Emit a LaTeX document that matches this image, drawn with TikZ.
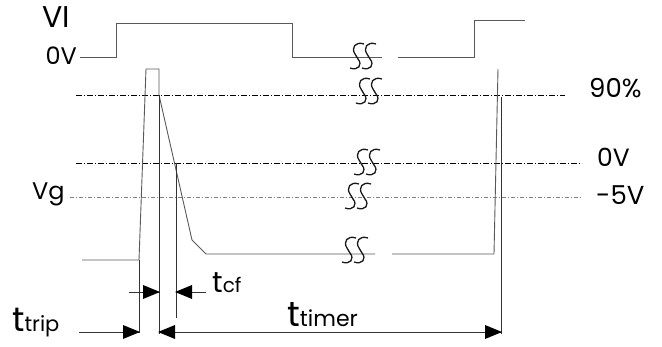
\documentclass[tikz,border=0pt]{standalone}
\usepackage{fontspec}
\setmainfont{Poppins}
\usetikzlibrary{arrows.meta, positioning}
\tikzset{>={Triangle[length=15pt,width=12pt]}}
\tikzset{
  wave/.style={draw=black!65, line width=0.9pt},
  tmark/.style={draw=black!80, line width=0.9pt},
  headr/.pic={\fill[black] (1,0) -- (-16,-7) -- (-16,7) -- cycle;},
  headl/.pic={\fill[black] (-1,0) -- (16,-7) -- (16,7) -- cycle;},
  lvl/.style={draw=black, line width=0.6pt, dash pattern=on 6pt off 2pt on 1pt off 2pt},
  lvlg/.style={draw=black!50, line width=0.8pt, dash pattern=on 4pt off 2pt on 1pt off 2pt},
  lab/.style={inner sep=0pt, anchor=base west},
  brk/.pic={
    \draw[black!90, line width=1.3pt] (1,-12) .. controls (-8,-15) and (-12,-8) .. (-8,-2) -- (-5,3) .. controls (0,9) and (-5,15) .. (-13,12);
    \draw[black!90, line width=1.3pt] (13,-12) .. controls (4,-15) and (0,-8) .. (4,-2) -- (7,3) .. controls (12,9) and (7,15) .. (-1,12);
  }
}
\newcommand{\tsub}[3]{{\fontsize{#1}{#1}\selectfont t}{\fontsize{#2}{#2}\selectfont #3}}

\begin{document}
\begin{tikzpicture}[x=1pt, y=-1pt]
    \useasboundingbox (0,0) rectangle (662,347);

    % labels
    \node[lab] (VI)   at (42,28)  {\fontsize{30}{30}\selectfont VI};
    \node[lab, anchor=base east] (V0a) at (77,65) {\fontsize{24}{24}\selectfont 0V};
    \node[lab] (P90)  at (589,98) {\fontsize{26}{26}\selectfont 90\%};
    \node[lab] (V0b)  at (597,167) {\fontsize{25}{25}\selectfont 0V};
    \node[lab] (V5)   at (596,205) {\fontsize{26}{26}\selectfont -5V};
    \node[lab] (Vg)   at (32,200) {\fontsize{24}{24}\selectfont Vg};
    \node[lab] (Ttrip)  at (12,332) {\tsub{34}{21}{trip}};
    \node[lab] (Tcf)    at (212,293) {\tsub{29}{20}{cf}};
    \node[lab] (Ttimer) at (287,327) {\tsub{35}{22}{timer}};

    % level lines
    \coordinate (L1a) at (76,95);  \coordinate (L1b) at (565,95);
    \coordinate (L2a) at (76,163); \coordinate (L2b) at (582,163);
    \coordinate (L3a) at (70,197); \coordinate (L3b) at (582,197);
    \draw[lvl]  (L1a) -- (L1b);
    \draw[lvl]  (L2a) -- (L2b);
    \draw[lvlg] (L3a) -- (L3b);

    % VI waveform
    \coordinate (A0) at (80,57);   \coordinate (A1) at (116,57);
    \coordinate (A2) at (116,23);  \coordinate (A3) at (292,23);
    \coordinate (A4) at (292,57);  \coordinate (A5) at (382,57);
    \coordinate (A6) at (398,57);  \coordinate (A7) at (474,57);
    \coordinate (A8) at (474,20);  \coordinate (A9) at (525,20);
    \draw[wave] (A0) -- (A1) -- (A2) -- (A3) -- (A4) -- (A5);
    \draw[wave] (A6) -- (A7) -- (A8) -- (A9);

    % Vg waveform
    \coordinate (G0) at (82,260);  \coordinate (G1) at (139,260);
    \coordinate (G2) at (146,69);  \coordinate (G3) at (159,69);
    \coordinate (G4) at (159,95);  \coordinate (G5) at (192,240);
    \coordinate (G6) at (206,254); \coordinate (G7) at (375,254);
    \coordinate (G8) at (392,254); \coordinate (G9) at (494,254);
    \coordinate (G10) at (498,69);
    \draw[wave] (G0) -- (G1) -- (G2) -- (G3) -- (G4) -- (G5) -- (G6) -- (G7);
    \draw[wave] (G8) -- (G9) -- (G10);

    % time marks
    \coordinate (M1a) at (139,260); \coordinate (M1b) at (139,333);
    \coordinate (M2a) at (159,95);  \coordinate (M2b) at (159,334);
    \coordinate (M3a) at (176,163); \coordinate (M3b) at (176,318);
    \coordinate (M4a) at (501,97);  \coordinate (M4b) at (501,334);
    \draw[tmark] (M1a) -- (M1b);
    \draw[tmark] (M2a) -- (M2b);
    \draw[tmark] (M3a) -- (M3b);
    \draw[tmark] (M4a) -- (M4b);

    % breaks
    \pic at (363,56)  {brk};
    \pic at (369,91)  {brk};
    \pic at (367,162) {brk};
    \pic at (358,196) {brk};
    \pic at (355,250) {brk};

    % arrows
    \coordinate (C1) at (129,292); \coordinate (C2) at (159,292);
    \coordinate (C3) at (206,292); \coordinate (C4) at (176,292);
    \coordinate (R1) at (79,332);  \coordinate (R2) at (139,332);
    \coordinate (R3) at (159,332); \coordinate (R4) at (501,332);
    \draw[tmark] (C1) -- (C2);
    \draw[tmark] (C3) -- (C4);
    \draw[tmark] (R1) -- (R2);
    \draw[tmark] (R3) -- (R4);
    \pic at (C2) {headr};
    \pic at (C4) {headl};
    \pic at (R2) {headr};
    \pic at (R3) {headl};
    \pic at (R4) {headr};
\end{tikzpicture}
\end{document}
